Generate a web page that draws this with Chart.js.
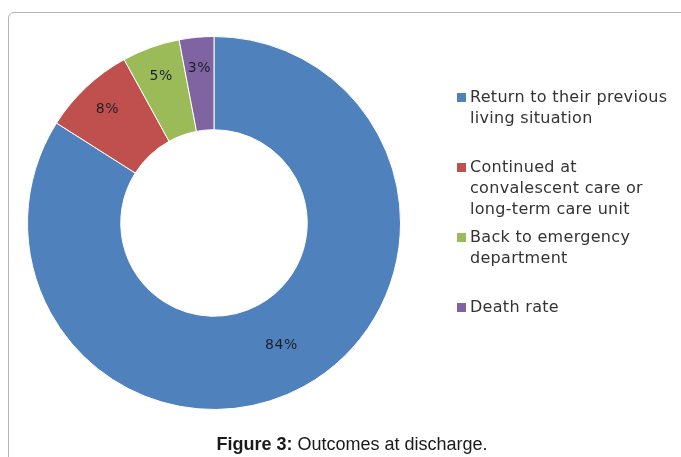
<!DOCTYPE html>
<html>
<head>
<meta charset="utf-8">
<script src="https://cdn.jsdelivr.net/npm/chart.js@4/dist/chart.umd.min.js"></script>
<style>
    body { margin: 0; background: #fff; }
    #wrap { position: relative; width: 681px; height: 457px; overflow: hidden; }
    #frame {
        position: absolute; left: 8px; top: 12px; width: 720px; height: 520px;
        border: 1px solid #b4b4b4; border-radius: 6px;
    }
    #chart { position: absolute; left: 0; top: 0; }
    #caption {
        position: absolute; left: 0; top: 433px; width: 704px; text-align: center;
        font: 18px "Liberation Sans", Arial, sans-serif; color: #1a1a1a;
        line-height: 22px;
    }
</style>
</head>
<body>
<div id="wrap">
    <div id="frame"></div>
    <canvas id="chart" width="681" height="457"></canvas>
    <div id="caption"><b>Figure 3:</b> Outcomes at discharge.</div>
</div>
<script>
'use strict';

const categories = [
    ['Return to their previous', 'living situation'],
    ['Continued at', 'convalescent care or', 'long-term care unit'],
    ['Back to emergency', 'department'],
    ['Death rate'],
];
const percentages = [84, 8, 5, 3];
const sliceColors = ['#4f81bd', '#c0504d', '#9bbb59', '#8064a2'];

const textFont = '"DejaVu Sans", Verdana, sans-serif';

// percent labels inside the ring, pushed outward for the thin slices
const sliceLabels = {
    id: 'sliceLabels',
    afterDatasetsDraw(chart) {
        const ctx = chart.ctx;
        const meta = chart.getDatasetMeta(0);
        ctx.save();
        ctx.font = '14px ' + textFont;
        ctx.letterSpacing = '0.6px';
        ctx.fillStyle = '#1c1f2a';
        ctx.textAlign = 'center';
        ctx.textBaseline = 'middle';
        meta.data.forEach((arc, i) => {
            const p = arc.getProps(['x', 'y', 'startAngle', 'endAngle', 'innerRadius', 'outerRadius']);
            const mid = (p.startAngle + p.endAngle) / 2;
            const f = percentages[i] < 10 ? 0.67 : 0.5;
            const r = p.innerRadius + (p.outerRadius - p.innerRadius) * f;
            ctx.fillText(percentages[i] + '%', p.x + Math.cos(mid) * r, p.y + Math.sin(mid) * r);
        });
        ctx.restore();
    },
};

// excel-like legend on the right with wrapped entries
const sideLegend = {
    id: 'sideLegend',
    afterDraw(chart) {
        const ctx = chart.ctx;
        const left = 457;
        const top = 98;
        const step = 70;
        const lineHeight = 21;
        ctx.save();
        ctx.font = '16px ' + textFont;
        ctx.letterSpacing = '0.3px';
        ctx.textBaseline = 'middle';
        categories.forEach((lines, i) => {
            const y = top + i * step;
            ctx.fillStyle = sliceColors[i];
            ctx.fillRect(left, y - 5, 9, 9);
            ctx.fillStyle = '#333333';
            lines.forEach((line, j) => {
                ctx.fillText(line, left + 13, y + j * lineHeight);
            });
        });
        ctx.restore();
    },
};

new Chart(document.getElementById('chart').getContext('2d'), {
    type: 'doughnut',
    data: {
        labels: categories,
        datasets: [{
            data: percentages,
            backgroundColor: sliceColors,
            borderColor: '#ffffff',
            borderWidth: 1,
        }],
    },
    options: {
        responsive: false,
        animation: false,
        cutout: '50%',
        layout: { padding: { left: 27, top: 36, right: 280, bottom: 47 } },
        plugins: {
            legend: { display: false },
            tooltip: { enabled: false },
        },
    },
    plugins: [sliceLabels, sideLegend],
});
</script>
</body>
</html>
